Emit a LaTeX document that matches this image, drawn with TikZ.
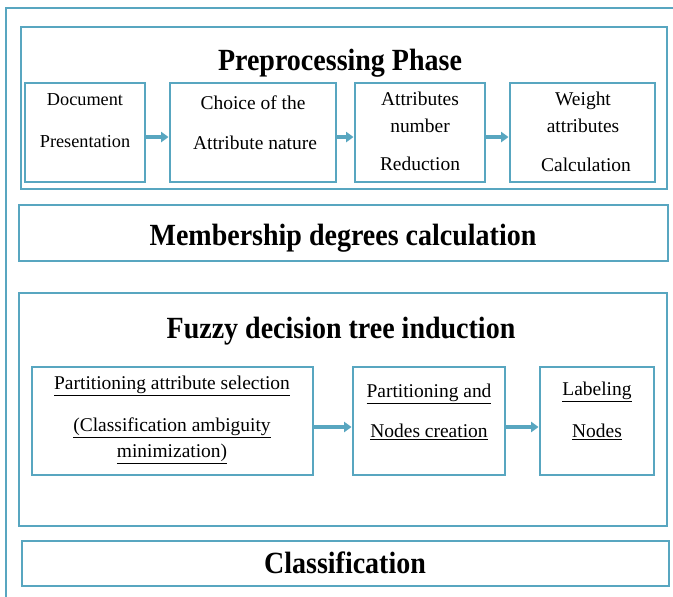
\documentclass[tikz,border=0pt]{standalone}
\usepackage{fontspec}
\setmainfont{Liberation Serif}
\usetikzlibrary{arrows.meta,fit}
\definecolor{frame}{RGB}{88,166,192}
\begin{document}
\begin{tikzpicture}[x=0.75pt,y=-0.75pt,
  box/.style={draw=frame,line width=2.2pt,inner sep=0pt,fill=none},
  lbl/.style={font=\fontsize{14.6}{16}\selectfont,inner sep=0pt,anchor=base},
  lbls/.style={font=\fontsize{13.7}{16}\selectfont,inner sep=0pt,anchor=base},
  ttl/.style={font=\fontsize{21}{24}\selectfont\bfseries,inner sep=0pt,anchor=base,yscale=1.1},
  conn/.style={draw=frame,line width=2.6pt,-{Triangle[length=5.5pt,width=7.5pt]}}]
\useasboundingbox (0,0) rectangle (673,596);
% outer frame (only top and left visible)
\draw[frame,line width=2.2pt] (6,600) -- (6,8) -- (680,8);
% boxes
\node[box,fit={(21,27) (667,189)}] (pre) {};
\node[box,fit={(25,83) (145,182)}] (doc) {};
\node[box,fit={(170,83) (336,182)}] (choice) {};
\node[box,fit={(355,83) (485,182)}] (attr) {};
\node[box,fit={(510,83) (655,182)}] (weight) {};
\node[box,fit={(19,205) (668,261)}] (memb) {};
\node[box,fit={(19,293) (667,526)}] (fuzzy) {};
\node[box,fit={(32,367) (313,475)}] (part) {};
\node[box,fit={(353,367) (505,475)}] (pnc) {};
\node[box,fit={(540,367) (654,475)}] (lab) {};
\node[box,fit={(22,541) (669,586)}] (cls) {};
% titles
\node[ttl] (tpre) at (340,70) {Preprocessing Phase};
\node[ttl] (tmemb) at (343,245) {Membership degrees calculation};
\node[ttl] (tfuzzy) at (341,338) {Fuzzy decision tree induction};
\node[ttl] (tcls) at (345,573) {Classification};
% top row texts
\node[lbls] (d1) at (85,105) {Document};
\node[lbls] (d2) at (85,147) {Presentation};
\node[lbl] (c1) at (253,109) {Choice of the};
\node[lbl] (c2) at (255,149) {Attribute nature};
\node[lbl] (a1) at (420,105) {Attributes};
\node[lbl] (a2) at (420,132) {number};
\node[lbl] (a3) at (420,170) {Reduction};
\node[lbl] (w1) at (583,105) {Weight};
\node[lbl] (w2) at (583,132) {attributes};
\node[lbl] (w3) at (586,171) {Calculation};
% lower row texts
\node[lbl] (p1) at (172,389) {\underline{Partitioning attribute selection}};
\node[lbl] (p2) at (172,431) {\underline{(Classification ambiguity}};
\node[lbl] (p3) at (172,457) {\underline{minimization)}};
\node[lbl] (n1) at (429,397) {\underline{Partitioning and}};
\node[lbl] (n2) at (429,437) {\underline{Nodes creation}};
\node[lbl] (l1) at (597,395) {\underline{Labeling}};
\node[lbl] (l2) at (597,437) {\underline{Nodes}};
% connectors
\draw[conn] ([yshift=-3.4pt]doc.east) -- ([yshift=-3.4pt]choice.west);
\draw[conn] ([yshift=-3.4pt]choice.east) -- ([yshift=-3.4pt]attr.west);
\draw[conn] ([yshift=-3.4pt]attr.east) -- ([yshift=-3.4pt]weight.west);
\draw[conn] ([yshift=-4.5pt]part.east) -- ([yshift=-4.5pt]pnc.west);
\draw[conn] ([yshift=-4.5pt]pnc.east) -- ([yshift=-4.5pt]lab.west);
\end{tikzpicture}
\end{document}
